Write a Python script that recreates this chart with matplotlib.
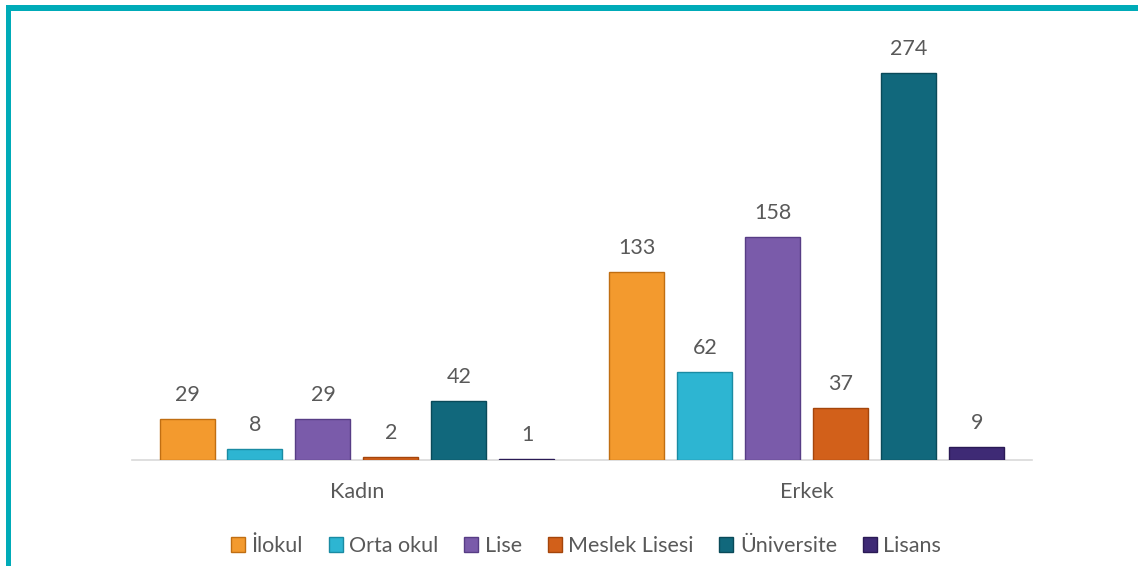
import matplotlib
matplotlib.use("Agg")
import matplotlib.pyplot as plt
from matplotlib.patches import Rectangle, Patch
import numpy as np

plt.rcParams['font.family'] = ['Lato', 'DejaVu Sans']

categories = ["Kadın", "Erkek"]
series = ["İlokul", "Orta okul", "Lise", "Meslek Lisesi", "Üniversite", "Lisans"]
values = {
    "İlokul": [29, 133],
    "Orta okul": [8, 62],
    "Lise": [29, 158],
    "Meslek Lisesi": [2, 37],
    "Üniversite": [42, 274],
    "Lisans": [1, 9],
}
colors = ["#F39A2E", "#2DB5D2", "#7A5BAA", "#D2601A", "#11687C", "#3E2A75"]
edges = ["#C06E12", "#1A8BA3", "#573D85", "#A4450B", "#0A4A59", "#2A1A55"]

W, H = 1138, 566
fig = plt.figure(figsize=(W / 100, H / 100), dpi=100)
ax = fig.add_axes([132 / W, 1 - 460 / H, 900 / W, 424 / H])

x = np.arange(len(categories))
step = 68 / 450
width = 55 / 450
n = len(series)
for i, s in enumerate(series):
    pos = x + (i - (n - 1) / 2) * step
    bars = ax.bar(pos, values[s], width=width, color=colors[i],
                  edgecolor=edges[i], linewidth=1.0, zorder=3)
    for b, v in zip(bars, values[s]):
        ax.annotate(str(v), (b.get_x() + b.get_width() / 2, v),
                    xytext=(0, 10), textcoords="offset points",
                    ha="center", va="bottom", fontsize=15.5, color="#595959")

ax.set_xlim(-0.5, 1.5)
ax.set_ylim(0, 300)
ax.set_xticks(x)
ax.set_xticklabels(categories, fontsize=15.5, color="#595959")
ax.tick_params(axis="x", length=0, pad=16)
ax.set_yticks([])
for sp in ["top", "right", "left"]:
    ax.spines[sp].set_visible(False)
ax.spines["bottom"].set_color("#D9D9D9")
ax.spines["bottom"].set_linewidth(1.2)
ax.set_facecolor("none")

handles = [Patch(facecolor=colors[i], edgecolor=edges[i], label=s)
           for i, s in enumerate(series)]
fig.legend(handles=handles, loc="center", bbox_to_anchor=(586 / W, 1 - 546 / H),
           ncol=6, frameon=False, fontsize=15.5, handlelength=0.65,
           handleheight=0.65, handletextpad=0.3, columnspacing=1.2,
           labelcolor="#595959")

teal = "#00ABB8"
fig.patches.append(Rectangle((6 / W, 0), 5 / W, 1 - 5 / H, transform=fig.transFigure,
                             facecolor=teal, edgecolor="none", zorder=10))
fig.patches.append(Rectangle((6 / W, 1 - 11 / H), 1 - 6 / W, 6 / H, transform=fig.transFigure,
                             facecolor=teal, edgecolor="none", zorder=10))

fig.savefig("out.png", dpi=100, facecolor="white")
